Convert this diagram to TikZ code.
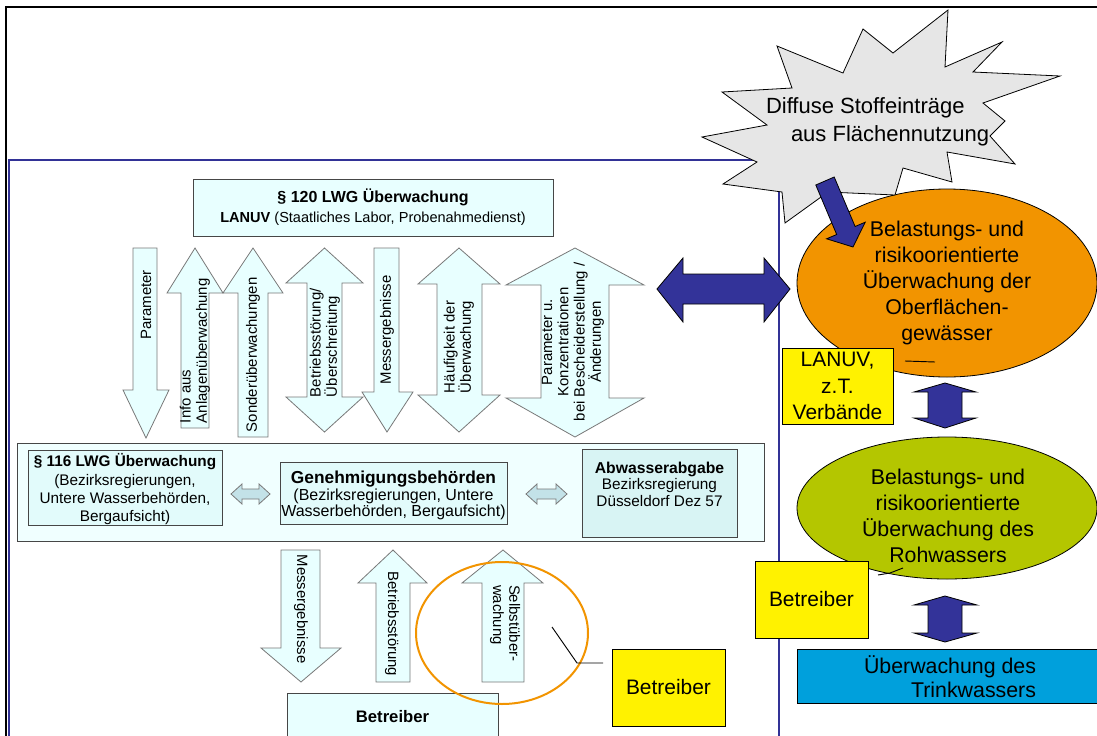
\documentclass[tikz,border=0pt]{standalone}
\usepackage{fontspec}
\setmainfont{Liberation Sans}
\usetikzlibrary{shapes.geometric}
\definecolor{lcyan}{RGB}{232,255,255}
\definecolor{bigcyan}{RGB}{240,255,255}
\definecolor{boxcyan}{RGB}{226,251,251}
\definecolor{abwcyan}{RGB}{216,244,244}
\definecolor{arrgray}{RGB}{120,120,120}
\definecolor{boxgray}{RGB}{70,70,70}
\definecolor{navy}{RGB}{51,51,153}
\definecolor{orangef}{RGB}{242,148,0}
\definecolor{greenf}{RGB}{180,198,0}
\definecolor{bluef}{RGB}{0,160,220}
\definecolor{stargray}{RGB}{230,230,230}
\definecolor{smallarr}{RGB}{195,226,232}
\definecolor{framenavy}{RGB}{50,50,150}
\begin{document}
\begin{tikzpicture}[x=0.75pt,y=-0.75pt,
  every node/.style={inner sep=0pt,outer sep=0pt},
  ltarrow/.style={fill=lcyan,draw=arrgray,line width=0.6pt},
  smarrow/.style={fill=smallarr,draw=arrgray,line width=0.6pt},
  navyarrow/.style={fill=navy,draw=black,line width=0.6pt},
  cbox/.style={rectangle,draw=boxgray,line width=0.6pt},
  ybox/.style={rectangle,fill=yellow,draw=black,line width=0.6pt},
  arrtext/.style={font=\fontsize{11.2}{12.2}\selectfont},
  bigtext/.style={font=\fontsize{16}{19.5}\selectfont,align=center},
  boxtext/.style={font=\fontsize{11.5}{13.75}\selectfont,align=center}]
\useasboundingbox (0,0) rectangle (1097,736);
\fill[white] (0,0) rectangle (1097,736);
% frames
\draw[framenavy,line width=0.8pt] (9,745) -- (9,160) -- (779,160) -- (779,745);
\draw[black,line width=2.2pt] (6,745) -- (6,7) -- (1105,7);

% top box
\node[cbox,fill=lcyan,minimum width=270pt,minimum height=42.75pt,align=center,
  font=\fontsize{10.9}{15}\selectfont] (lanuvtop) at (373,207.5)
  {{\fontsize{12}{15}\selectfont\bfseries § 120 LWG Überwachung}\\\textbf{LANUV} (Staatliches Labor, Probenahmedienst)};

% top arrows
\draw[ltarrow] (133,248) -- (157,248) -- (157,390) -- (169,390) -- (146,438) -- (123,390) -- (133,390) -- cycle;
\draw[ltarrow] (195,248) -- (223,293) -- (209,293) -- (209,428) -- (181,428) -- (181,293) -- (167,293) -- cycle;
\draw[ltarrow] (253,248) -- (283,293) -- (268,293) -- (268,437) -- (238,437) -- (238,293) -- (223,293) -- cycle;
\draw[ltarrow] (324.5,248) -- (363,283) -- (342,283) -- (342,397) -- (363,397) -- (324.5,432) -- (286,397) -- (307,397) -- (307,283) -- (286,283) -- cycle;
\draw[ltarrow] (374,248) -- (399,248) -- (399,392) -- (413,392) -- (387,432) -- (362,392) -- (374,392) -- cycle;
\draw[ltarrow] (459,248) -- (500,284) -- (482,284) -- (482,395) -- (500,395) -- (459,432) -- (418,395) -- (437,395) -- (437,284) -- (418,284) -- cycle;
\draw[ltarrow] (575,248) -- (644,285) -- (609,285) -- (609,398) -- (644,398) -- (575,437) -- (506,398) -- (541,398) -- (541,285) -- (506,285) -- cycle;

\node[arrtext,rotate=90] (tparam) at (146,305) {Parameter};
\node[arrtext,rotate=90,anchor=west,align=left] (tinfo) at (195,423) {Info aus\\Anlagenüberwachung};
\node[arrtext,rotate=90,anchor=west] (tsonder) at (253,432) {Sonderüberwachungen};
\node[arrtext,rotate=90,anchor=west,align=left] (tbetr) at (325,397) {Betriebsstörung/\\Überschreitung};
\node[arrtext,rotate=90] (tmess) at (387,330) {Messergebnisse};
\node[arrtext,rotate=90,anchor=west,align=left] (thaeuf) at (459,393) {Häufigkeit der\\Überwachung};
\node[arrtext,rotate=90,align=center] (tparu) at (573,342) {Parameter u.\\Konzentrationen\\bei Bescheiderstellung /\\Änderungen};

% middle box
\node[cbox,fill=bigcyan,minimum width=560.25pt,minimum height=73.5pt] (mid) at (390.5,492) {};
\node[cbox,fill=boxcyan,minimum width=145.5pt,minimum height=56.25pt] (lwg116) at (125,487.5) {};
\node[boxtext] (t116) at (125,489.5) {{\bfseries § 116 LWG Überwachung}\\(Bezirksregierungen,\\Untere Wasserbehörden,\\Bergaufsicht)};
\node[cbox,fill=boxcyan,minimum width=170.25pt,minimum height=46.5pt] (genehm) at (393.5,493) {};
\node[align=center,font=\fontsize{12}{12.6}\selectfont] (tgenehm) at (393.5,495.5) {{\fontsize{13}{12.6}\selectfont\bfseries Genehmigungsbehörden}\\(Bezirksregierungen, Untere\\Wasserbehörden, Bergaufsicht)};
\node[cbox,fill=abwcyan,minimum width=116.25pt,minimum height=66pt] (abw) at (659.5,493) {};
\node[boxtext,font=\fontsize{11.5}{12.4}\selectfont] (tabw) at (659.5,484) {{\fontsize{11.8}{12.4}\selectfont\bfseries Abwasserabgabe}\\Bezirksregierung\\Düsseldorf Dez 57};
\draw[smarrow] (231,494) -- (242,484) -- (242,489) -- (259,489) -- (259,484) -- (270,494) -- (259,504) -- (259,499) -- (242,499) -- (242,504) -- cycle;
\draw[smarrow] (526,494) -- (537,484) -- (537,489) -- (556,489) -- (556,484) -- (567,494) -- (556,504) -- (556,499) -- (537,499) -- (537,504) -- cycle;

% lower arrows
\draw[ltarrow] (281,550) -- (320,550) -- (320,648) -- (341,648) -- (301,682) -- (261,648) -- (281,648) -- cycle;
\draw[ltarrow] (393,550) -- (427,583) -- (410,583) -- (410,682) -- (376,682) -- (376,583) -- (358,583) -- cycle;
\draw[ltarrow] (503,550) -- (543,583) -- (524,583) -- (524,682) -- (482,682) -- (482,583) -- (462,583) -- cycle;
\node[arrtext,rotate=-90] (tmess2) at (301,609) {Messergebnisse};
\node[arrtext,rotate=-90] (tbetr2) at (392,624) {Betriebsstörung};
\node[arrtext,rotate=-90,anchor=west,align=left] (tselbst) at (505,585) {Selbstüber-\\wachung};
\node[cbox,fill=lcyan,minimum width=158.25pt,minimum height=39pt] (betrbot) at (392.5,719) {};
\node[font=\fontsize{12.5}{14}\selectfont\bfseries] (tbetrbot) at (392.5,717) {Betreiber};

% orange callout circle
\node[ellipse,draw=orangef,line width=1.5pt,minimum width=129pt,minimum height=106.5pt] (selbstcirc) at (502,633) {};
\node[ybox,minimum width=84.75pt,minimum height=57.75pt,font=\fontsize{15.7}{19}\selectfont] (ybetr1) at (668.5,687.5) {Betreiber};
\coordinate (c1) at (552,627);
\coordinate (c2) at (577,663);
\coordinate (c3) at (603,663);
\draw[black,line width=0.7pt] (c1) -- (c2) -- (c3);

% right side
\node[ellipse,fill=orangef,draw=black,line width=0.6pt,minimum width=225pt,minimum height=141pt,bigtext] (ue1) at (947,283)
  {Belastungs- und\\risikoorientierte\\Überwachung der\\Oberflächen-\\gewässer};
\draw[black,line width=0.7pt] (905,361) -- (935,362);
\node[ellipse,fill=greenf,draw=black,line width=0.6pt,minimum width=225pt,minimum height=106.5pt] (ue2) at (947,508) {};
\node[bigtext] (tue2) at (948,516) {Belastungs- und\\risikoorientierte\\Überwachung des\\Rohwassers};
\draw[black,line width=0.7pt] (878,575) -- (890,573) -- (903,568);
\node[ybox,minimum width=83.25pt,minimum height=57pt,bigtext,font=\fontsize{15.7}{20}\selectfont] (ylanuv) at (837.5,386) {LANUV,\\z.T.\\Verbände};
\node[ybox,minimum width=84.75pt,minimum height=57.75pt,font=\fontsize{15.7}{19}\selectfont] (ybetr2) at (811.5,599.5) {Betreiber};
\node[rectangle,fill=bluef,draw=black,line width=0.6pt,minimum width=227.25pt,minimum height=40.5pt] (trink) at (948.5,676) {};
\node[align=right,font=\fontsize{16}{18}\selectfont] (ttrink) at (950,677) {Überwachung des\\Trinkwassers};
\draw[navyarrow] (945,383) -- (976,392) -- (962,392) -- (962,418) -- (976,418) -- (945,428) -- (914,418) -- (928,418) -- (928,392) -- (914,392) -- cycle;
\draw[navyarrow] (945,596) -- (977,605) -- (962,605) -- (962,633) -- (977,633) -- (945,642) -- (914,633) -- (928,633) -- (928,605) -- (914,605) -- cycle;
\draw[navyarrow] (657,289) -- (683,258) -- (683,274) -- (764,274) -- (764,258) -- (790,289) -- (764,322) -- (764,304) -- (683,304) -- (683,322) -- cycle;

% star
\draw[fill=stargray,draw=black,line width=0.6pt]
  (948,10) -- (945,67) -- (1002,42) -- (973,72) -- (1060,76) -- (983,103) -- (1005,121) -- (990,136)
  -- (1015,164) -- (947,152) -- (952,182) -- (903,168) -- (895,195) -- (828,192) -- (785,223) -- (782,192)
  -- (723,184) -- (757,162) -- (702,137) -- (767,125) -- (722,92) -- (792,88) -- (777,46) -- (843,73)
  -- (863,29) -- (893,53) -- cycle;
\node[anchor=west,align=left,font=\fontsize{16.5}{21}\selectfont] (diffuse) at (766,122)
  {Diffuse Stoffeinträge\\\hspace*{18.75pt}aus Flächennutzung};
\draw[navyarrow] (834.2,177.0) -- (855.1,226.5) -- (865.2,222.2) -- (853,247) -- (826.6,238.8) -- (836.7,234.5) -- (815.8,185.0) -- cycle;
\end{tikzpicture}
\end{document}
